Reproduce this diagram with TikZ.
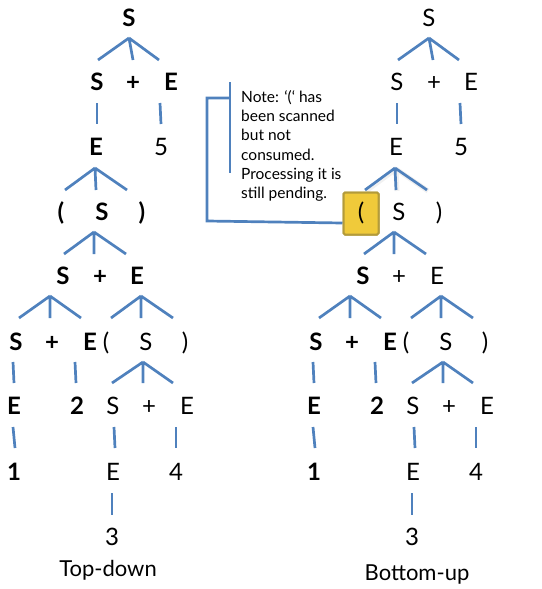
\documentclass[tikz,border=0pt]{standalone}
\usepackage{fontspec}
\setmainfont{Lato}
\usetikzlibrary{calc}
\definecolor{edgeblue}{HTML}{4F81BD}
\definecolor{boxfill}{HTML}{F0CA3A}
\definecolor{boxline}{HTML}{B39B3A}
\begin{document}
\begin{tikzpicture}[x=1pt,y=-1pt,
  sym/.style={inner sep=0pt,text height=17pt,text depth=0pt,anchor=center,font=\fontsize{24}{27}\selectfont},
  bsym/.style={sym,font=\fontsize{24}{27}\selectfont\bfseries},
  edge/.style={draw=edgeblue,line width=2.7pt},
  shade/.style={draw=black!30,line width=5pt,opacity=0.18},
  caption/.style={inner sep=0pt,anchor=center,font=\fontsize{22}{26}\selectfont},
  notetext/.style={inner sep=0pt,anchor=north west,align=left,font=\fontsize{15.5}{19.3}\selectfont},
  ybox/.style={draw=boxline,fill=boxfill,line width=2pt,rounded corners=1.5pt,minimum width=35pt,minimum height=42pt,inner sep=0pt}
]
\useasboundingbox (0,0) rectangle (541,589);

% ---------------- Left tree (Top-down) ----------------
\node[bsym] (a1) at (129,18) {S};
\node[bsym] (a2s) at (97,82) {S};
\node[bsym] (a2p) at (133,82) {+};
\node[bsym] (a2e) at (171,82) {E};
\node[bsym] (a3e) at (96,147) {E};
\node[sym]  (a35) at (161,147) {5};
\node[bsym] (a4l) at (61,212) {(};
\node[bsym] (a4s) at (102,212) {S};
\node[bsym] (a4r) at (142,212) {)};
\node[bsym] (a5s) at (63,276) {S};
\node[bsym] (a5p) at (100,276) {+};
\node[bsym] (a5e) at (137,276) {E};
\node[bsym] (a6s) at (16,342) {S};
\node[bsym] (a6p) at (52,342) {+};
\node[bsym] (a6e) at (90,342) {E};
\node[sym]  (a6l) at (106,342) {(};
\node[sym]  (a6m) at (146,342) {S};
\node[sym]  (a6r) at (185,342) {)};
\node[bsym] (a7e) at (14,406) {E};
\node[bsym] (a72) at (77,406) {2};
\node[sym]  (a7s) at (113,406) {S};
\node[sym]  (a7p) at (149,406) {+};
\node[sym]  (a7f) at (187,406) {E};
\node[bsym] (a81) at (14,472) {1};
\node[sym]  (a8e) at (113,472) {E};
\node[sym]  (a84) at (176,472) {4};
\node[sym]  (a93) at (112,537) {3};
\node[caption] (capL) at (108,570) {Top-down};

\draw[edge] ($(a1)+(0,20)$) -- ++(-31,22) ($(a1)+(0,20)$) -- ++(4,22) ($(a1)+(0,20)$) -- ++(30,22);
\draw[edge] ($(a2s)+(0,21)$) -- ($(a3e)+(1,-23)$);
\draw[edge] ($(a2e)+(-11,21)$) -- ($(a35)+(0,-23)$);
\draw[edge] ($(a3e)+(-1,21)$) -- ++(-30,22) ($(a3e)+(-1,21)$) -- ++(1,22) ($(a3e)+(-1,21)$) -- ++(32,22);
\draw[edge] ($(a4s)+(-8,20)$) -- ++(-30,22) ($(a4s)+(-8,20)$) -- ++(0,22) ($(a4s)+(-8,20)$) -- ++(32,22);
\draw[edge] ($(a5s)+(-13,20)$) -- ++(-31,22) ($(a5s)+(-13,20)$) -- ++(0,22) ($(a5s)+(-13,20)$) -- ++(31,22);
\draw[edge] ($(a5e)+(4,20)$) -- ++(-30,22) ($(a5e)+(4,20)$) -- ++(0,22) ($(a5e)+(4,20)$) -- ++(32,22);
\draw[edge] ($(a6s)+(-3,20)$) -- ($(a7e)+(0,-23)$);
\draw[edge] ($(a6e)+(-15,20)$) -- ($(a72)+(-1,-23)$);
\draw[edge] ($(a6m)+(-3,20)$) -- ++(-31,21) ($(a6m)+(-3,20)$) -- ++(0,21) ($(a6m)+(-3,20)$) -- ++(30,21);
\draw[edge] ($(a7e)+(-1,21)$) -- ($(a81)+(1,-24)$);
\draw[edge] ($(a7s)+(1,21)$) -- ($(a8e)+(2,-24)$);
\draw[edge] ($(a7f)+(-11,21)$) -- ($(a84)+(0,-24)$);
\draw[edge] ($(a8e)+(-1,21)$) -- ($(a93)+(0,-22)$);

% ---------------- Right tree (Bottom-up) ----------------
\node[sym]  (b1) at (429,18) {S};
\node[sym]  (b2s) at (397,82) {S};
\node[sym]  (b2p) at (434,82) {+};
\node[sym]  (b2e) at (471,82) {E};
\node[sym]  (b3e) at (396,147) {E};
\node[sym]  (b35) at (461,147) {5};
\node[sym]  (b4s) at (399,212) {S};
\node[sym]  (b4r) at (439,212) {)};
\node[bsym] (b5s) at (363,276) {S};
\node[sym]  (b5p) at (399,276) {+};
\node[sym]  (b5e) at (437,276) {E};
\node[bsym] (b6s) at (316,342) {S};
\node[bsym] (b6p) at (352,342) {+};
\node[bsym] (b6e) at (390,342) {E};
\node[sym]  (b6l) at (406,342) {(};
\node[sym]  (b6m) at (446,342) {S};
\node[sym]  (b6r) at (485,342) {)};
\node[bsym] (b7e) at (314,406) {E};
\node[bsym] (b72) at (377,406) {2};
\node[sym]  (b7s) at (413,406) {S};
\node[sym]  (b7p) at (449,406) {+};
\node[sym]  (b7f) at (487,406) {E};
\node[bsym] (b81) at (314,472) {1};
\node[sym]  (b8e) at (413,472) {E};
\node[sym]  (b84) at (476,472) {4};
\node[sym]  (b93) at (412,537) {3};
\node[caption] (capR) at (417,574) {Bottom-up};

\draw[edge] ($(b1)+(0,20)$) -- ++(-31,22) ($(b1)+(0,20)$) -- ++(4,22) ($(b1)+(0,20)$) -- ++(30,22);
\draw[edge] ($(b2s)+(0,21)$) -- ($(b3e)+(1,-23)$);
\draw[edge] ($(b2e)+(-11,21)$) -- ($(b35)+(0,-23)$);
\draw[shade] ($(b3e)+(0,22)$) -- ++(-30,22) ($(b3e)+(0,22)$) -- ++(1,22) ($(b3e)+(0,22)$) -- ++(32,22);
\draw[edge] ($(b3e)+(-1,21)$) -- ++(-30,22) ($(b3e)+(-1,21)$) -- ++(1,22) ($(b3e)+(-1,21)$) -- ++(32,22);
\draw[edge] ($(b4s)+(-5,20)$) -- ++(-30,22) ($(b4s)+(-5,20)$) -- ++(0,22) ($(b4s)+(-5,20)$) -- ++(32,22);
\draw[edge] ($(b5s)+(-13,20)$) -- ++(-31,22) ($(b5s)+(-13,20)$) -- ++(0,22) ($(b5s)+(-13,20)$) -- ++(31,22);
\draw[edge] ($(b5e)+(4,20)$) -- ++(-30,22) ($(b5e)+(4,20)$) -- ++(0,22) ($(b5e)+(4,20)$) -- ++(32,22);
\draw[edge] ($(b6s)+(-3,20)$) -- ($(b7e)+(0,-23)$);
\draw[edge] ($(b6e)+(-15,20)$) -- ($(b72)+(-1,-23)$);
\draw[edge] ($(b6m)+(-3,20)$) -- ++(-31,21) ($(b6m)+(-3,20)$) -- ++(0,21) ($(b6m)+(-3,20)$) -- ++(30,21);
\draw[edge] ($(b7e)+(-1,21)$) -- ($(b81)+(1,-24)$);
\draw[edge] ($(b7s)+(1,21)$) -- ($(b8e)+(2,-24)$);
\draw[edge] ($(b7f)+(-11,21)$) -- ($(b84)+(0,-24)$);
\draw[edge] ($(b8e)+(-1,21)$) -- ($(b93)+(0,-22)$);

% ---------------- Note callout ----------------
\node[notetext] (note) at (241,90) {Note: ‘(‘ has\\been scanned\\but not\\consumed.\\Processing it is\\still pending.};
\coordinate (nt) at (230,82);
\coordinate (nbot) at (230,173);
\coordinate (nj) at (230,98);
\coordinate (nk) at (207,98);
\coordinate (nl) at (207,221);
\draw[edge] (nt) -- (nbot);
\node[ybox] (box) at (361,213.5) {};
\draw[edge] (nj) -- (nk) -- (nl) -- ($(box.west)+(0,9.5)$);
\node[ybox] at (box) {};
\node[sym] (b4l) at (361,212) {(};
\end{tikzpicture}
\end{document}
